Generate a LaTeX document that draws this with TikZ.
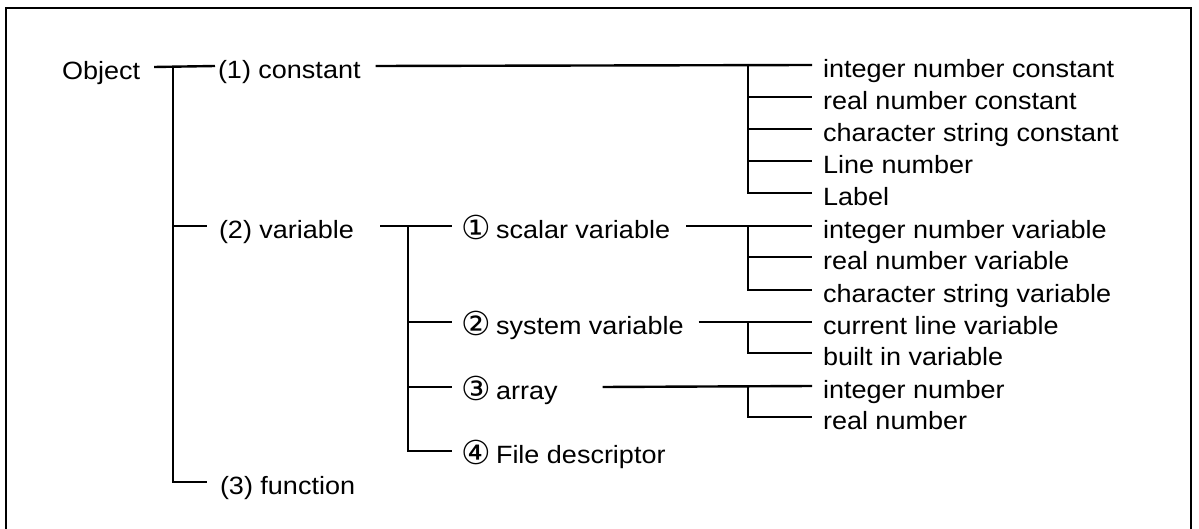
\documentclass[tikz,border=0pt]{standalone}
\usepackage{fontspec}
\setmainfont{Liberation Sans}[FakeStretch=1.08]
\newfontfamily\circfont{DejaVu Sans}
\newcommand\circd[1]{\makebox[34pt][l]{\hspace*{-1pt}\raisebox{-1pt}{\circfont\fontsize{33}{36}\selectfont #1}}}
\begin{document}
\begin{tikzpicture}[x=1pt,y=-1pt,
  lbl/.style={anchor=west,inner sep=0pt,outer sep=0pt,text height=25pt,text depth=0pt,
    font=\fontsize{25}{30}\selectfont},
  ln/.style={line width=2.4pt,line cap=butt},
  frame/.style={line width=2.4pt}]
\useasboundingbox (0,0) rectangle (1199,529);
% frame (open at the bottom)
\draw[frame] (6,529) -- (6,8) -- (1191,8) -- (1191,529);

% first level
\node[lbl] (obj) at (62,67) {Object};
\node[lbl] (c1) at (218,66) {(1) constant};
\node[lbl] (v2) at (219,226) {(2) variable};
\node[lbl] (f3) at (220,482) {(3) function};

% second level
\node[lbl] (s1) at (462,226) {\circd{①}scalar variable};
\node[lbl] (s2) at (462,322) {\circd{②}system variable};
\node[lbl] (s3) at (462,387) {\circd{③}array};
\node[lbl] (s4) at (462,451) {\circd{④}File descriptor};

% leaves
\node[lbl] (inc) at (823,65) {integer number constant};
\node[lbl] (rnc) at (823,97) {real number constant};
\node[lbl] (csc) at (823,129) {character string constant};
\node[lbl] (lnn) at (823,161) {Line number};
\node[lbl] (lab) at (823,193) {Label};
\node[lbl] (inv) at (823,226) {integer number variable};
\node[lbl] (rnv) at (823,257) {real number variable};
\node[lbl] (csv) at (823,290) {character string variable};
\node[lbl] (clv) at (823,322) {current line variable};
\node[lbl] (biv) at (823,353) {built in variable};
\node[lbl] (inn) at (823,386) {integer number};
\node[lbl] (rnn) at (823,417) {real number};

% junctions
\coordinate (j0) at (173,67);
\coordinate (j1) at (408,226);
\coordinate (jc) at (748,65);
\coordinate (js) at (748,226);
\coordinate (jy) at (748,322);
\coordinate (ja) at (748,386);

% Object tree
\draw[ln] ([xshift=14]obj.east) -- ([xshift=-3]c1.west);
\draw[ln] (j0) |- ([xshift=-13]f3.west);
\draw[ln] (j0 |- v2) -- ([xshift=-12]v2.west);

% constant
\draw[ln] ([xshift=15]c1.east) -- ([xshift=-11]inc.west);
\draw[ln] (jc) |- ([xshift=-11]lab.west);
\foreach \n in {rnc,csc,lnn} \draw[ln] (jc |- \n) -- ([xshift=-11]\n.west);

% variable
\draw[ln] ([xshift=26]v2.east) -- ([xshift=-10]s1.west);
\draw[ln] (j1) |- ([xshift=-10]s4.west);
\foreach \n in {s2,s3} \draw[ln] (j1 |- \n) -- ([xshift=-10]\n.west);

% scalar
\draw[ln] ([xshift=16]s1.east) -- ([xshift=-11]inv.west);
\draw[ln] (js) |- ([xshift=-11]csv.west);
\draw[ln] (js |- rnv) -- ([xshift=-11]rnv.west);

% system
\draw[ln] ([xshift=15]s2.east) -- ([xshift=-11]clv.west);
\draw[ln] (jy) |- ([xshift=-11]biv.west);

% array
\draw[ln] ([xshift=45]s3.east) -- ([xshift=-11]inn.west);
\draw[ln] (ja) |- ([xshift=-11]rnn.west);
\end{tikzpicture}
\end{document}
